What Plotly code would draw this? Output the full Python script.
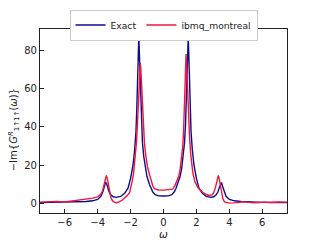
import plotly.graph_objects as go

# Exact (symmetric, read for x >= 0, mirrored)
exact_x_pos = [0, 0.3, 0.5, 0.65, 0.75, 0.85, 1.0, 1.1, 1.2, 1.28, 1.34, 1.39, 1.44, 1.47, 1.5,
               1.53, 1.57, 1.62, 1.67, 1.75, 1.85, 2.0, 2.15, 2.36, 2.6, 2.87, 3.05, 3.2, 3.3,
               3.4, 3.47, 3.52, 3.6, 3.7, 3.8, 4.0, 4.3, 4.7, 5.2, 6.0, 7.0, 7.5]
exact_y_pos = [3.7, 3.8, 4.4, 5.8, 7.5, 9.8, 13.8, 18.0, 24.5, 32.0, 42.0, 54.0, 70.0, 80.0, 87.0,
               80.0, 67.0, 50.0, 38.0, 28.0, 20.0, 13.0, 8.0, 5.1, 3.5, 3.0, 3.3, 4.3, 5.8,
               8.3, 10.5, 10.8, 8.4, 5.5, 3.6, 1.9, 1.2, 0.8, 0.6, 0.4, 0.3, 0.25]

ibmq_x = [-7.5, -7.0, -6.5, -6.0, -5.5, -5.0, -4.6, -4.3, -4.0, -3.8, -3.7, -3.6, -3.53, -3.47,
          -3.4, -3.3, -3.2, -3.1, -3.0, -2.85, -2.7, -2.5, -2.36, -2.2, -2.06, -1.98, -1.9,
          -1.82, -1.72, -1.64, -1.58, -1.53, -1.48, -1.44, -1.41, -1.38, -1.34, -1.29, -1.23,
          -1.16, -1.08, -0.97, -0.85, -0.75, -0.65, -0.55, -0.3, 0.0, 0.3, 0.56, 0.7, 0.8,
          0.91, 1.0, 1.1, 1.17, 1.22, 1.27, 1.32, 1.35, 1.37, 1.4, 1.44, 1.5, 1.57, 1.65,
          1.78, 1.9, 2.05, 2.18, 2.4, 2.6, 2.8, 2.95, 3.05, 3.15, 3.23, 3.3, 3.33, 3.38, 3.45,
          3.52, 3.6, 3.7, 3.85, 4.0, 4.3, 4.6, 4.9, 5.2, 5.5, 5.8, 6.1, 6.5, 7.0, 7.5]
ibmq_y = [0.5, 0.6, 0.9, 0.6, 1.1, 1.6, 2.0, 2.6, 3.3, 4.8, 6.5, 10.0, 13.0, 14.5,
          12.5, 6.5, 3.0, 1.2, 0.5, 0.2, 0.6, 1.6, 2.6, 4.0, 5.5, 8.0, 11.5,
          15.5, 23.0, 32.0, 42.0, 53.0, 64.0, 71.0, 73.5, 71.0, 63.0, 52.0, 41.0,
          32.0, 25.0, 19.0, 15.0, 11.5, 9.0, 7.6, 6.9, 6.8, 6.9, 7.3, 9.3, 11.3,
          13.8, 17.0, 23.0, 30.0, 38.0, 48.8, 63.0, 73.0, 78.3, 74.0, 63.0, 48.8, 37.0, 26.0,
          16.0, 11.5, 8.6, 7.2, 5.5, 4.5, 4.0, 4.3, 5.5, 8.0, 11.5, 14.0, 14.5, 13.0, 9.5,
          5.5, 2.5, 0.6, 0.1, 0.0, 0.1, 0.3, 0.7, 0.4, 0.1, 0.3, 0.5, 0.3, 0.6, 0.5]

exact_x = [-v for v in exact_x_pos[::-1]] + exact_x_pos[1:]
exact_y = exact_y_pos[::-1] + exact_y_pos[1:]

x_ticks = [-6, -4, -2, 0, 2, 4, 6]
y_ticks = [0, 20, 40, 60, 80]

BLUE = "#0c0c8f"
RED = "#f2143f"

fig = go.Figure()
fig.add_trace(go.Scatter(x=exact_x, y=exact_y, mode="lines", name="Exact",
                         line=dict(color=BLUE, width=1.4)))
fig.add_trace(go.Scatter(x=ibmq_x, y=ibmq_y, mode="lines", name="ibmq_montreal",
                         line=dict(color=RED, width=1.4)))

axis_common = dict(showgrid=False, zeroline=False, showline=True, mirror=True,
                   linecolor="#222", linewidth=1.2, ticks="inside", ticklen=4,
                   tickwidth=1, tickcolor="#222",
                   tickfont=dict(family="DejaVu Sans", size=10, color="#222"))

# page body has an 8px margin, so the figure is 312x232 placed at (8, 8)
fig.update_layout(
    width=312, height=232,
    margin=dict(l=32, r=33, t=21, b=27, autoexpand=False),
    paper_bgcolor="white", plot_bgcolor="white",
    font=dict(family="DejaVu Sans", size=10, color="#222"),
    showlegend=True,
    legend=dict(orientation="h", xref="paper", x=0.5, xanchor="center",
                yref="container", y=1 - 1.5 / 232, yanchor="top",
                bordercolor="#cccccc", borderwidth=1, bgcolor="white",
                font=dict(size=9.2, color="#222"), itemwidth=30, tracegroupgap=0),
    xaxis=dict(range=[-7.5, 7.5], tickvals=x_ticks, **axis_common),
    yaxis=dict(range=[-5.2, 91.4], tickvals=y_ticks, **axis_common),
    annotations=[
        dict(text="<i>ω</i>", xref="paper", yref="paper", x=0.5, y=-0.112,
             xanchor="center", yanchor="middle", showarrow=False,
             font=dict(size=10.5, color="#222")),
        dict(text="−Im{<i>G</i><sup><i>R</i></sup><sub>1↑1↑</sub>(<i>ω</i>)}",
             xref="paper", yref="paper", x=-0.105, y=0.45, textangle=-90,
             xanchor="center", yanchor="middle", showarrow=False,
             font=dict(size=10, color="#222")),
    ],
)

fig.write_html("out.html")
